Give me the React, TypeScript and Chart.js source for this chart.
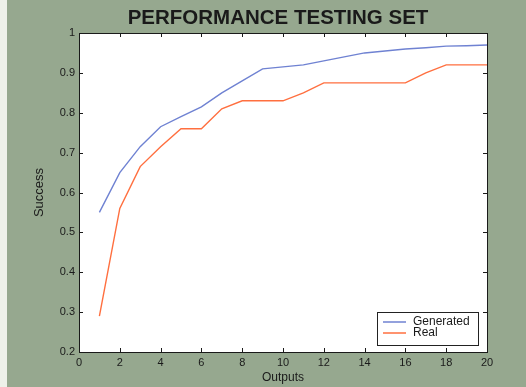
import React, { useEffect, useRef } from "react";
import { Chart, registerables } from "chart.js";

Chart.register(...registerables);

const outputs = [1, 2, 3, 4, 5, 6, 7, 8, 9, 10, 11, 12, 13, 14, 15, 16, 17, 18, 19, 20];
const generated = [0.55, 0.65, 0.715, 0.765, 0.79, 0.815, 0.85, 0.88, 0.91, 0.915, 0.92, 0.93, 0.94, 0.95, 0.955, 0.96, 0.963, 0.967, 0.968, 0.97];
const real = [0.29, 0.56, 0.665, 0.715, 0.76, 0.76, 0.81, 0.83, 0.83, 0.83, 0.85, 0.875, 0.875, 0.875, 0.875, 0.875, 0.9, 0.92, 0.92, 0.92];
const xTicks = [0, 2, 4, 6, 8, 10, 12, 14, 16, 18, 20];
const yTicks = [0.2, 0.3, 0.4, 0.5, 0.6, 0.7, 0.8, 0.9, 1];
const TITLE = "PERFORMANCE TESTING SET";

const BG = "#96a88f";
const BLUE = "#6f82d2";
const RED = "#ff6f3f";
const FONT = "'Liberation Sans', Arial, sans-serif";

const framePlugin = {
  id: "frame",
  beforeDraw(chart: any) {
    const { ctx, width, height, chartArea } = chart;
    ctx.save();
    ctx.fillStyle = BG;
    ctx.fillRect(0, 0, width, height);
    ctx.fillStyle = "#eef1ea";
    ctx.fillRect(0, 0, 7, height);
    ctx.fillStyle = "#ffffff";
    ctx.fillRect(chartArea.left, chartArea.top, chartArea.right - chartArea.left, chartArea.bottom - chartArea.top);
    ctx.fillStyle = "#1a1a1a";
    ctx.font = `bold 20.5px ${FONT}`;
    ctx.textAlign = "center";
    ctx.textBaseline = "middle";
    ctx.fillText(TITLE, 278, 18);
    ctx.restore();
  },
  afterDatasetsDraw(chart: any) {
    const { ctx, chartArea, scales } = chart;
    const { left, right, top, bottom } = chartArea;
    ctx.save();
    ctx.strokeStyle = "#1a1a1a";
    ctx.lineWidth = 1;
    ctx.beginPath();
    const tl = 4;
    for (const v of xTicks) {
      const px = Math.round(scales.x.getPixelForValue(v)) + 0.5;
      ctx.moveTo(px, bottom);
      ctx.lineTo(px, bottom - tl);
      ctx.moveTo(px, top);
      ctx.lineTo(px, top + tl);
    }
    for (const v of yTicks) {
      const py = Math.round(scales.y.getPixelForValue(v)) + 0.5;
      ctx.moveTo(left, py);
      ctx.lineTo(left + tl, py);
      ctx.moveTo(right, py);
      ctx.lineTo(right - tl, py);
    }
    ctx.stroke();
    ctx.strokeRect(Math.round(left) + 0.5, Math.round(top) + 0.5, Math.round(right - left), Math.round(bottom - top));

    // legend box
    const bx = 377, by = 312, bw = 101, bh = 33;
    ctx.fillStyle = "#ffffff";
    ctx.fillRect(bx, by, bw, bh);
    ctx.strokeStyle = "#222";
    ctx.strokeRect(bx + 0.5, by + 0.5, bw, bh);
    ctx.font = `12px ${FONT}`;
    ctx.textBaseline = "middle";
    ctx.textAlign = "left";
    chart.data.datasets.forEach((ds: any, i: number) => {
      const y = by + 10 + i * 11;
      ctx.strokeStyle = ds.borderColor;
      ctx.lineWidth = 1.5;
      ctx.beginPath();
      ctx.moveTo(bx + 6, y);
      ctx.lineTo(bx + 29, y);
      ctx.stroke();
      ctx.fillStyle = "#1a1a1a";
      ctx.fillText(ds.label, bx + 36, y);
    });
    ctx.restore();
  },
};

export default function App() {
  const ref = useRef<HTMLCanvasElement>(null);
  useEffect(() => {
    if (!ref.current) return;
    const chart = new Chart(ref.current, {
      type: "line",
      data: {
        labels: outputs,
        datasets: [
          { label: "Generated", data: outputs.map((x, i) => ({ x, y: generated[i] })), borderColor: BLUE, borderWidth: 1.4, pointRadius: 0, tension: 0, fill: false },
          { label: "Real", data: outputs.map((x, i) => ({ x, y: real[i] })), borderColor: RED, borderWidth: 1.4, pointRadius: 0, tension: 0, fill: false },
        ],
      },
      options: {
        animation: false,
        responsive: false,
        devicePixelRatio: 1,
        layout: { padding: { top: 33, left: 0, right: 39, bottom: 0 } },
        plugins: {
          legend: { display: false },
          tooltip: { enabled: false },
          title: { display: false },
        },
        scales: {
          x: {
            type: "linear",
            min: 0,
            max: 20,
            afterFit: (s: any) => { s.height = 35; },
            afterBuildTicks: (s: any) => { s.ticks = xTicks.map((v) => ({ value: v })); },
            grid: { display: false, drawTicks: false },
            border: { display: false },
            ticks: { padding: 4, color: "#1a1a1a", font: { family: FONT, size: 11 }, maxRotation: 0, autoSkip: false },
            title: { display: true, text: "Outputs", color: "#1a1a1a", font: { family: FONT, size: 12 }, padding: { top: 0, bottom: 2 } },
          },
          y: {
            type: "linear",
            min: 0.2,
            max: 1,
            afterFit: (s: any) => { s.width = 79; },
            afterBuildTicks: (s: any) => { s.ticks = yTicks.map((v) => ({ value: v })); },
            grid: { display: false, drawTicks: false },
            border: { display: false },
            ticks: { padding: 4, color: "#1a1a1a", font: { family: FONT, size: 11 }, autoSkip: false, callback: (v: any) => String(Math.round(Number(v) * 10) / 10) },
            title: { display: true, text: "Success", color: "#1a1a1a", font: { family: FONT, size: 13 }, padding: { top: 32, bottom: 0 } },
          },
        },
      },
      plugins: [framePlugin],
    });
    return () => chart.destroy();
  }, []);
  return (
    <div style={{ position: "fixed", left: 0, top: 0, width: 526, height: 387 }}>
      <canvas ref={ref} width={526} height={387} style={{ display: "block" }} />
    </div>
  );
}
